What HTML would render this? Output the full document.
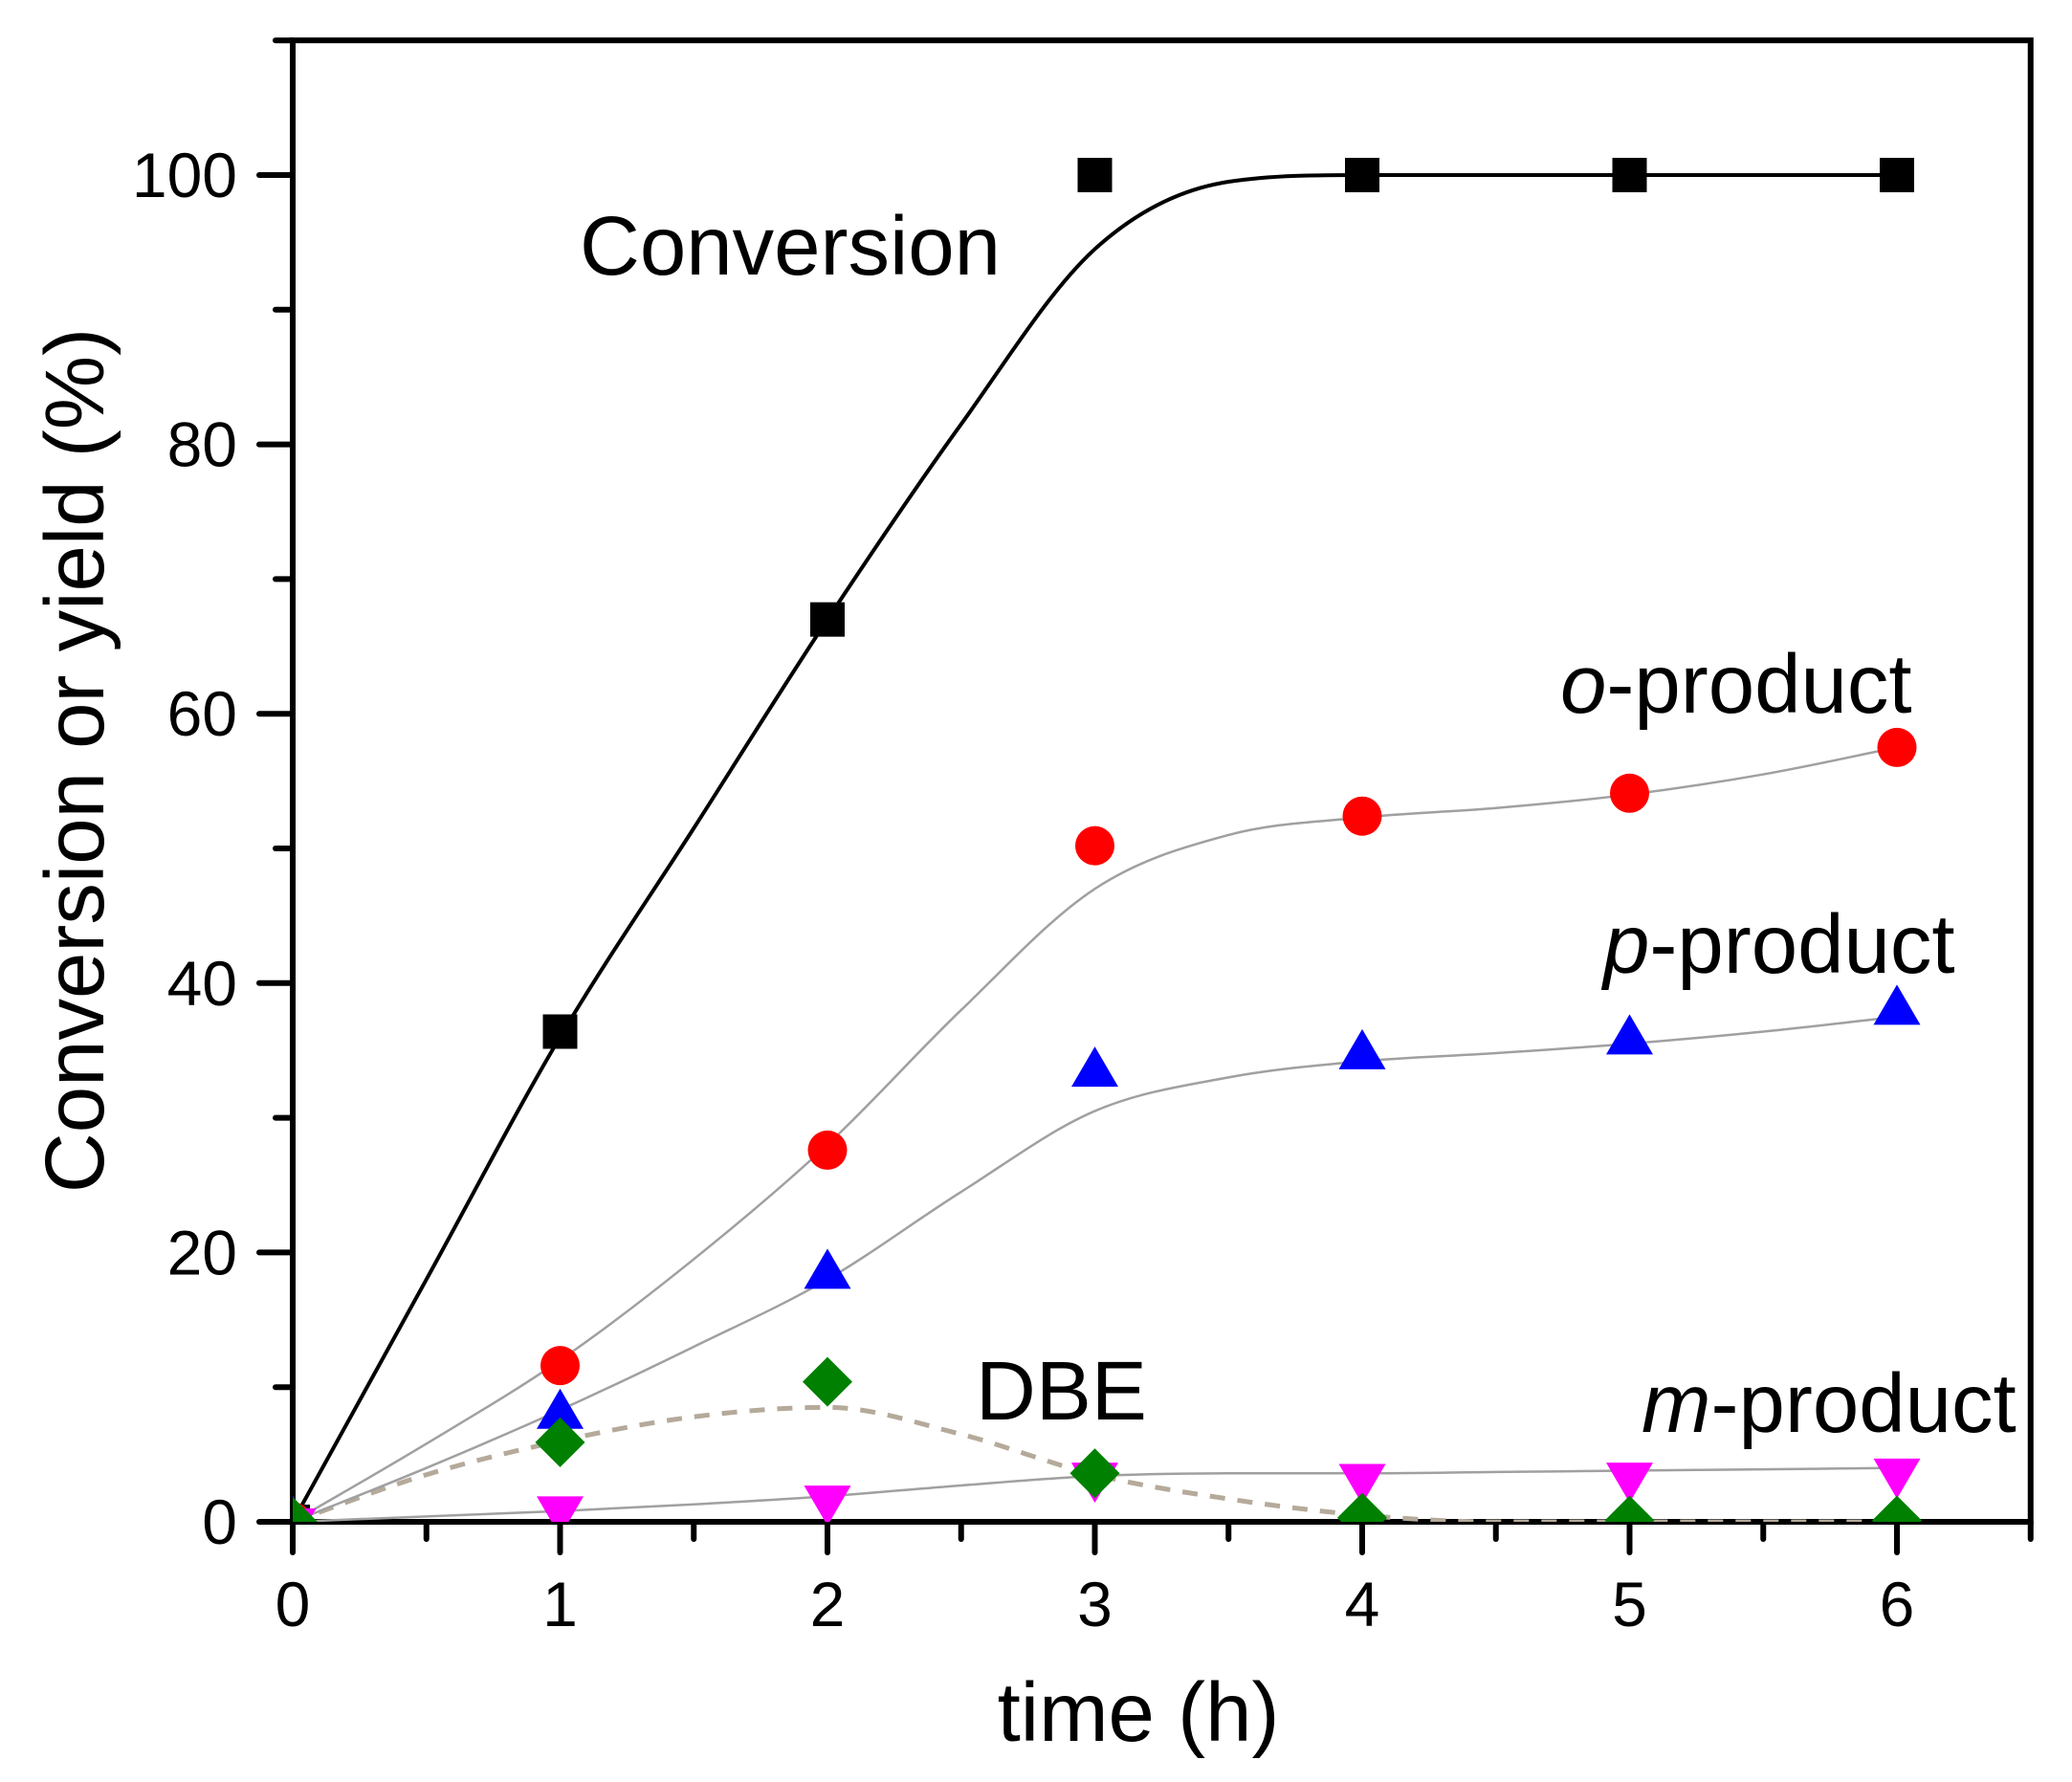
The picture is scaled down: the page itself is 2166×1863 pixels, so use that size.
<!DOCTYPE html>
<html><head><meta charset="utf-8"><style>
html,body{margin:0;padding:0;background:#fff}
svg{display:block}
text{font-family:"Liberation Sans",Arial,sans-serif;fill:#000}
</style></head><body>
<svg id="chart" width="2166" height="1863" viewBox="0 0 2166 1863" xmlns="http://www.w3.org/2000/svg">
<defs><clipPath id="plotclip"><rect x="306" y="43" width="1816" height="1548"/></clipPath></defs>
<g id="axes"></g>
<g id="fits" clip-path="url(#plotclip)"></g>
<g id="marks" clip-path="url(#plotclip)"></g>
<g id="labels">
<text x="606" y="287" font-size="87">Conversion</text>
<text x="1631" y="745" font-size="87"><tspan font-style="italic">o</tspan>-product</text>
<text x="1676" y="1017" font-size="87"><tspan font-style="italic">p</tspan>-product</text>
<text x="1020" y="1484" font-size="87">DBE</text>
<text x="1716" y="1497" font-size="87"><tspan font-style="italic">m</tspan>-product</text>
<text x="1190" y="1820" font-size="87" text-anchor="middle">time (h)</text>
<text x="0" y="0" font-size="87" text-anchor="middle" transform="translate(108,795) rotate(-90)">Conversion or yield (%)</text>
</g>
</svg>
<script>
const times = [0,1,2,3,4,5,6];
const conversion = [0,36.4,67,100,100,100,100];
const oProduct = [0,11.6,27.6,50.2,52.4,54.1,57.5];
const pProduct = [0,7.9,18.3,33.3,34.6,35.7,37.9];
const dbe = [0,5.9,10.4,3.6,0.3,0.1,0.1];
const mProduct = [0,0.9,1.7,3.4,3.3,3.4,3.7];
const fitTimes = [0,0.5,1,1.5,2,2.5,3,3.5,4,4.5,5,5.5,6];
const conversionFit = [0,18,36,51.5,67,81.5,94.5,99.5,100,100,100,100,100];
const oFit = [0,5.8,12,19.5,28,38,47,51,52.3,53,54,55.5,57.5];
const pFit = [0,4,8.3,13,18,24.5,30.5,33,34.2,34.8,35.5,36.4,37.5];
const mFit = [0,0.4,0.8,1.3,1.9,2.7,3.4,3.6,3.6,3.7,3.8,3.9,4.0];
const dbeFit = [0,3.5,6,7.8,8.5,6.5,3.5,1.7,0.5,0,0,0,0];
const xTicks = [0,1,2,3,4,5,6];
const yTicks = [0,20,40,60,80,100];

const NS='http://www.w3.org/2000/svg';
const X0=306,XU=279.5,Y0=1591,YU=14.08;
const sx=v=>X0+v*XU, sy=v=>Y0-v*YU;
function mk(tag,attrs,parent){const e=document.createElementNS(NS,tag);for(const k in attrs)e.setAttribute(k,attrs[k]);parent.appendChild(e);return e;}
const axes=document.getElementById('axes'),fits=document.getElementById('fits'),marks=document.getElementById('marks');
const xmax=6.5,ymax=110;
let fr=mk('rect',{x:sx(0),y:sy(ymax),width:sx(xmax)-sx(0),height:sy(0)-sy(ymax),fill:'none',stroke:'#000','stroke-width':6},axes);


for(let v=0;v<=xmax+1e-9;v+=0.5){
  const major=Math.abs(v-Math.round(v))<1e-9;
  const t=mk('line',{x1:sx(v),x2:sx(v),y1:sy(0),y2:sy(0)+(major?32:18),stroke:'#000','stroke-width':6,'stroke-linecap':'round'},axes);
  
  
}
xTicks.forEach(v=>{const t=mk('text',{x:sx(v),y:1700,'font-size':66,'text-anchor':'middle'},axes);t.textContent=v;
  
  });
for(let v=0;v<=ymax;v+=10){
  const major=v%20===0;
  const t=mk('line',{x1:sx(0),x2:sx(0)-(major?35:18),y1:sy(v),y2:sy(v),stroke:'#000','stroke-width':6,'stroke-linecap':'round'},axes);
  
  
}
yTicks.forEach(v=>{const t=mk('text',{x:248,y:sy(v)+23,'font-size':66,'text-anchor':'end'},axes);t.textContent=v;
  
  });

function monoPath(xs,ys){
  const n=xs.length,px=xs.map(sx),py=ys.map(sy);
  const d=[],m=[];
  for(let i=0;i<n-1;i++)d.push((py[i+1]-py[i])/(px[i+1]-px[i]));
  for(let i=0;i<n;i++){
    if(i===0)m.push(d[0]);else if(i===n-1)m.push(d[n-2]);
    else m.push(d[i-1]*d[i]<=0?0:(d[i-1]+d[i])/2);
  }
  for(let i=0;i<n-1;i++){if(d[i]===0){m[i]=0;m[i+1]=0;continue;}
    const a=m[i]/d[i],b=m[i+1]/d[i],s=a*a+b*b;if(s>9){const t=3/Math.sqrt(s);m[i]=t*a*d[i];m[i+1]=t*b*d[i];}}
  let p='M'+px[0]+','+py[0];
  for(let i=0;i<n-1;i++){const h=(px[i+1]-px[i])/3;
    p+=' C'+(px[i]+h)+','+(py[i]+m[i]*h)+' '+(px[i+1]-h)+','+(py[i+1]-m[i+1]*h)+' '+px[i+1]+','+py[i+1];}
  return p;
}
let f;
f=mk('path',{d:monoPath(fitTimes,mFit),fill:'none',stroke:'#a0a0a0','stroke-width':2.5},fits);


f=mk('path',{d:monoPath(fitTimes,dbeFit),fill:'none',stroke:'#b5aa9a','stroke-width':5,'stroke-dasharray':'16 13'},fits);


f=mk('path',{d:monoPath(fitTimes,pFit),fill:'none',stroke:'#a0a0a0','stroke-width':2.5},fits);


f=mk('path',{d:monoPath(fitTimes,oFit),fill:'none',stroke:'#a0a0a0','stroke-width':2.5},fits);


f=mk('path',{d:monoPath(fitTimes,conversionFit),fill:'none',stroke:'#000','stroke-width':4},fits);



function marker(kind,x,y,color,name){
  let e;
  if(kind==='square')e=mk('rect',{x:x-18,y:y-18,width:36,height:36,fill:color},marks);
  else if(kind==='circle')e=mk('circle',{cx:x,cy:y,r:20.5,fill:color},marks);
  else if(kind==='up')e=mk('polygon',{points:`${x-24.5},${y+14} ${x+24.5},${y+14} ${x},${y-28}`,fill:color},marks);
  else if(kind==='down')e=mk('polygon',{points:`${x-24.5},${y-14} ${x+24.5},${y-14} ${x},${y+28}`,fill:color},marks);
  else e=mk('polygon',{points:`${x},${y-26} ${x+26},${y} ${x},${y+26} ${x-26},${y}`,fill:color},marks);
  
  
}
times.forEach((t,i)=>marker('square',sx(t),sy(conversion[i]),'#000','conversion-point'));
times.forEach((t,i)=>marker('circle',sx(t),sy(oProduct[i]),'#ff0000','o-product-point'));
times.forEach((t,i)=>marker('up',sx(t),sy(pProduct[i]),'#0000ff','p-product-point'));
times.forEach((t,i)=>marker('down',sx(t),sy(mProduct[i]),'#ff00ff','m-product-point'));
times.forEach((t,i)=>marker('diamond',sx(t),sy(dbe[i]),'#008000','dbe-point'));
</script>
</body></html>
